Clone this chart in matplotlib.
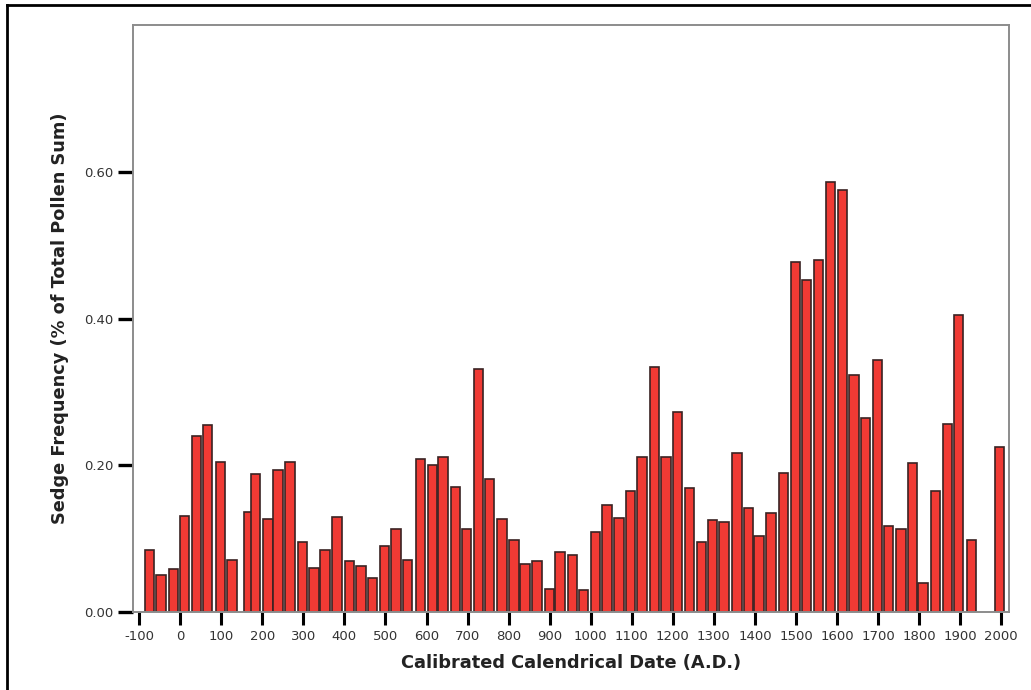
import matplotlib
matplotlib.use("Agg")
import matplotlib.pyplot as plt
from matplotlib.lines import Line2D

# sample dates (A.D.) and sedge share of the total pollen sum
years = [
    -75, -47, -17, 10, 40, 67, 98, 126, 167, 183,
    214, 238, 267, 298, 326, 353, 382, 412, 440, 469,
    497, 526, 554, 585, 615, 640, 670, 698, 727, 754,
    784, 813, 840, 869, 900, 925, 955, 983, 1012, 1040,
    1069, 1097, 1125, 1156, 1183, 1211, 1241, 1270, 1297, 1325,
    1356, 1385, 1410, 1439, 1469, 1499, 1526, 1555, 1584, 1613,
    1641, 1670, 1698, 1726, 1756, 1784, 1810, 1840, 1869, 1896,
    1927, 1996,
]
sedge = [
    0.084, 0.050, 0.059, 0.131, 0.240, 0.255, 0.204, 0.071, 0.136, 0.188,
    0.127, 0.194, 0.204, 0.096, 0.060, 0.084, 0.129, 0.069, 0.063, 0.046,
    0.090, 0.113, 0.071, 0.209, 0.200, 0.211, 0.171, 0.113, 0.331, 0.181,
    0.127, 0.098, 0.065, 0.069, 0.031, 0.082, 0.078, 0.030, 0.109, 0.146,
    0.128, 0.165, 0.211, 0.334, 0.211, 0.272, 0.169, 0.096, 0.126, 0.123,
    0.217, 0.142, 0.103, 0.135, 0.190, 0.477, 0.453, 0.480, 0.586, 0.575,
    0.323, 0.265, 0.343, 0.117, 0.113, 0.203, 0.040, 0.165, 0.256, 0.405,
    0.098, 0.225,
]
x_ticks = list(range(-100, 2001, 100))
y_ticks = [0.0, 0.2, 0.4, 0.6]

fig = plt.figure(figsize=(10.31, 6.90), dpi=100)
ax = fig.add_axes([133 / 1031, 78 / 690, 876 / 1031, 587 / 690])

ax.bar(years, sedge, width=23, color="#f03a34", edgecolor="#3a2222",
       linewidth=1.2, align="center")

ax.set_xlim(-115, 2019)
ax.set_ylim(0, 0.8)
ax.set_xticks(x_ticks)
ax.set_xticklabels([str(t) for t in x_ticks])
ax.set_yticks(y_ticks)
ax.set_yticklabels([f"{t:.2f}" for t in y_ticks])

for s in ax.spines.values():
    s.set_color("#8c8c8c")
    s.set_linewidth(1.4)

ax.tick_params(axis="y", direction="out", length=11, width=2.4, color="black",
               pad=3, labelsize=9.5, labelcolor="#333333")
ax.tick_params(axis="x", direction="out", length=9, width=2.2, color="black",
               pad=4, labelsize=9.5, labelcolor="#333333")

ax.set_xlabel("Calibrated Calendrical Date (A.D.)", fontsize=12.8,
              fontweight="bold", color="#222222", labelpad=8)
ax.set_ylabel("Sedge Frequency (% of Total Pollen Sum)", fontsize=12.8,
              fontweight="bold", color="#222222", labelpad=11)

# page border lines along the top and left edges
fig.add_artist(Line2D([7 / 1031, 1.0], [1 - 5 / 690, 1 - 5 / 690],
                      transform=fig.transFigure, color="black", linewidth=2))
fig.add_artist(Line2D([7 / 1031, 7 / 1031], [0.0, 1 - 5 / 690],
                      transform=fig.transFigure, color="black", linewidth=2))

fig.savefig("out.png", dpi=100)
